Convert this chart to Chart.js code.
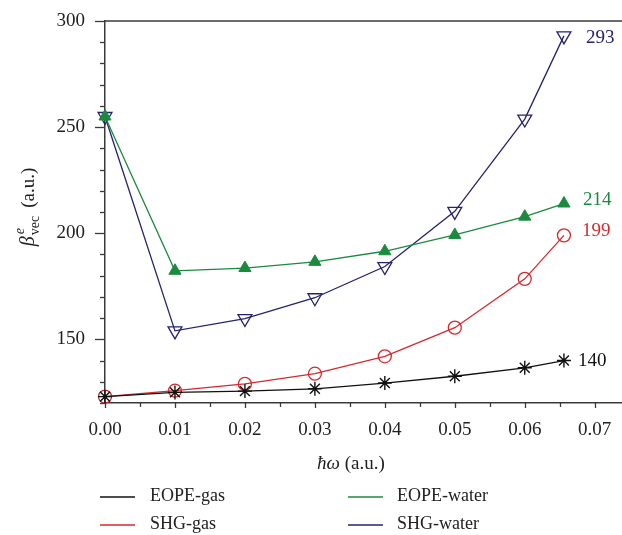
<!DOCTYPE html>
<html><head><meta charset="utf-8">
<script src="https://cdn.jsdelivr.net/npm/chart.js@4/dist/chart.umd.min.js"></script>
<style>html,body{margin:0;padding:0;background:#fff}#wrap{width:622px;height:535px;position:relative}</style>
</head><body><div id="wrap"><canvas id="c" width="622" height="535"></canvas></div>
<script>
// ---- data ----
const energies   = [0, 0.01, 0.02, 0.03, 0.04, 0.05, 0.06, 0.0656];
const eopeGas    = [123, 125, 125.6, 126.7, 129.4, 132.6, 136.6, 140];
const shgGas     = [123, 125.8, 129, 133.8, 142, 155.5, 178.5, 199];
const eopeWater  = [255, 182.3, 183.6, 186.5, 191.5, 199.2, 207.8, 214];
const shgWater   = [255, 154, 159.8, 169.6, 184.3, 210.3, 253.8, 293];
const seriesNames = ['EOPE-gas', 'SHG-gas', 'EOPE-water', 'SHG-water'];
const endLabels   = ['140', '199', '214', '293'];
const yTickLabels = [150, 200, 250, 300];
const xTickLabels = [0, 0.01, 0.02, 0.03, 0.04, 0.05, 0.06, 0.07];

const COLORS = ['#111111', '#d42a2f', '#1b8a3e', '#25226e'];
const SERIF = '"Liberation Serif", "DejaVu Serif", serif';
const AXIS = '#3a3a3a';

function pts(ys) { return energies.map((x, i) => ({x: x, y: ys[i]})); }

const datasets = [
  {label: seriesNames[0], data: pts(eopeGas), borderColor: COLORS[0], backgroundColor: COLORS[0],
   pointStyle: 'star', pointRadius: 7, pointBorderColor: COLORS[0], pointBorderWidth: 1.4},
  {label: seriesNames[1], data: pts(shgGas), borderColor: COLORS[1], backgroundColor: 'rgba(0,0,0,0)',
   pointStyle: 'circle', pointRadius: 6.5, pointBorderColor: COLORS[1], pointBorderWidth: 1.3},
  {label: seriesNames[2], data: pts(eopeWater), borderColor: COLORS[2], backgroundColor: COLORS[2],
   pointStyle: 'triangle', pointRadius: 7, pointBorderColor: COLORS[2], pointBackgroundColor: COLORS[2], pointBorderWidth: 1},
  {label: seriesNames[3], data: pts(shgWater), borderColor: COLORS[3], backgroundColor: 'rgba(0,0,0,0)',
   pointStyle: 'triangle', pointRotation: 180, pointRadius: 8, pointBorderColor: COLORS[3], pointBorderWidth: 1.3}
].map(d => Object.assign({borderWidth: 1.3, tension: 0, fill: false, clip: false}, d));

const decorPlugin = {
  id: 'decor',
  afterDraw(chart) {
    const ctx = chart.ctx, xs = chart.scales.x, ys = chart.scales.y, ca = chart.chartArea;
    ctx.save();
    ctx.strokeStyle = AXIS; ctx.lineWidth = 1.5;
    // top frame line
    ctx.beginPath(); ctx.moveTo(ca.left, ca.top); ctx.lineTo(ca.right, ca.top); ctx.stroke();
    // y ticks (outward)
    ctx.lineWidth = 1.3;
    for (let v = ys.min; v <= ys.max + 1e-9; v += 10) {
      const p = Math.round(ys.getPixelForValue(v)) + 0.5;
      const major = yTickLabels.includes(Math.round(v));
      ctx.beginPath(); ctx.moveTo(ca.left - (major ? 10 : 5), p); ctx.lineTo(ca.left, p); ctx.stroke();
    }
    // x ticks (downward)
    for (let k = 0; k <= 14; k++) {
      const v = k * 0.005;
      const p = Math.round(xs.getPixelForValue(v)) + 0.5;
      const major = k % 2 === 0;
      ctx.beginPath(); ctx.moveTo(p, ca.bottom); ctx.lineTo(p, ca.bottom + (major ? 5 : 4)); ctx.stroke();
    }
    // end-value labels
    const dx = [14, 18, 19, 22], dy = [0, -4, -3, 2];
    ctx.font = '19px ' + SERIF; ctx.textBaseline = 'middle'; ctx.textAlign = 'left';
    chart.data.datasets.forEach((d, i) => {
      const meta = chart.getDatasetMeta(i);
      const last = meta.data[meta.data.length - 1];
      ctx.fillStyle = COLORS[i];
      ctx.fillText(endLabels[i], last.x + dx[i], last.y + dy[i]);
    });
    // x-axis title
    ctx.fillStyle = '#222';
    ctx.textBaseline = 'alphabetic';
    const it = 'italic 19px ' + SERIF, rm = '19px ' + SERIF;
    ctx.font = it; const w1 = ctx.measureText('\u0127\u03C9').width;
    ctx.font = rm; const w2 = ctx.measureText(' (a.u.)').width;
    let sx = 351 - (w1 + w2) / 2;
    ctx.font = it; ctx.fillText('\u0127\u03C9', sx, 469);
    ctx.font = rm; ctx.fillText(' (a.u.)', sx + w1, 469);
    // y-axis title (rotated)
    ctx.save();
    ctx.translate(34, 207); ctx.rotate(-Math.PI / 2);
    const fB = 'italic 20px ' + SERIF, fSup = 'italic 14px ' + SERIF, fSub = '14px ' + SERIF;
    ctx.font = fB; const wb = ctx.measureText('\u03B2').width;
    ctx.font = fSup; const we = ctx.measureText('e').width;
    ctx.font = fSub; const wv = ctx.measureText('vec').width;
    ctx.font = rm; const wa = ctx.measureText('(a.u.)').width;
    const gap = 8;
    const tot = wb + 1 + Math.max(we, wv) + gap + wa;
    let x0 = -tot / 2;
    ctx.font = fB; ctx.fillText('\u03B2', x0, 0); x0 += wb + 1;
    ctx.font = fSup; ctx.fillText('e', x0 + 1, -10);
    ctx.font = fSub; ctx.fillText('vec', x0, 5);
    x0 += Math.max(we, wv) + gap;
    ctx.font = rm; ctx.fillText('(a.u.)', x0, 0);
    ctx.restore();
    // legend
    const cols = [{lx: 100, tx: 150}, {lx: 348, tx: 397}];
    const rows = [496, 524];
    const order = [[0, 0, 0], [1, 0, 1], [2, 1, 0], [3, 1, 1]];
    ctx.font = '18px ' + SERIF; ctx.textBaseline = 'middle';
    order.forEach(([i, c, r]) => {
      ctx.strokeStyle = COLORS[i]; ctx.lineWidth = 1.6;
      ctx.beginPath(); ctx.moveTo(cols[c].lx, rows[r] + 1); ctx.lineTo(cols[c].lx + 35, rows[r] + 1); ctx.stroke();
      ctx.fillStyle = '#222';
      ctx.fillText(seriesNames[i], cols[c].tx, rows[r]);
    });
    ctx.restore();
  }
};

new Chart(document.getElementById('c'), {
  type: 'line',
  data: {datasets: datasets},
  options: {
    responsive: false, animation: false, devicePixelRatio: 1,
    layout: {autoPadding: false, padding: {top: 21, right: 0, left: 0, bottom: 0}},
    plugins: {legend: {display: false}, tooltip: {enabled: false}},
    scales: {
      x: {
        type: 'linear', min: 0, max: 0.0739,
        grid: {display: false},
        border: {display: true, color: AXIS, width: 1.5},
        afterFit(s) { s.height = 132; s.paddingLeft = 0; s.paddingRight = 0; },
        ticks: {
          stepSize: 0.005, includeBounds: false, autoSkip: false, maxRotation: 0, padding: 8,
          color: '#222', font: {family: SERIF, size: 19},
          callback(v) {
            const hit = xTickLabels.find(t => Math.abs(t - v) < 1e-6);
            return hit === undefined ? '' : hit.toFixed(2);
          }
        }
      },
      y: {
        type: 'linear', min: 120, max: 300,
        grid: {display: false},
        border: {display: true, color: AXIS, width: 1.5},
        afterFit(s) { s.width = 105; s.paddingTop = 0; s.paddingBottom = 0; },
        ticks: {
          stepSize: 10, includeBounds: false, autoSkip: false, padding: 12,
          color: '#222', font: {family: SERIF, size: 19},
          callback(v) { return yTickLabels.includes(Math.round(v)) ? String(v) : ''; }
        }
      }
    }
  },
  plugins: [decorPlugin]
});
</script></body></html>
